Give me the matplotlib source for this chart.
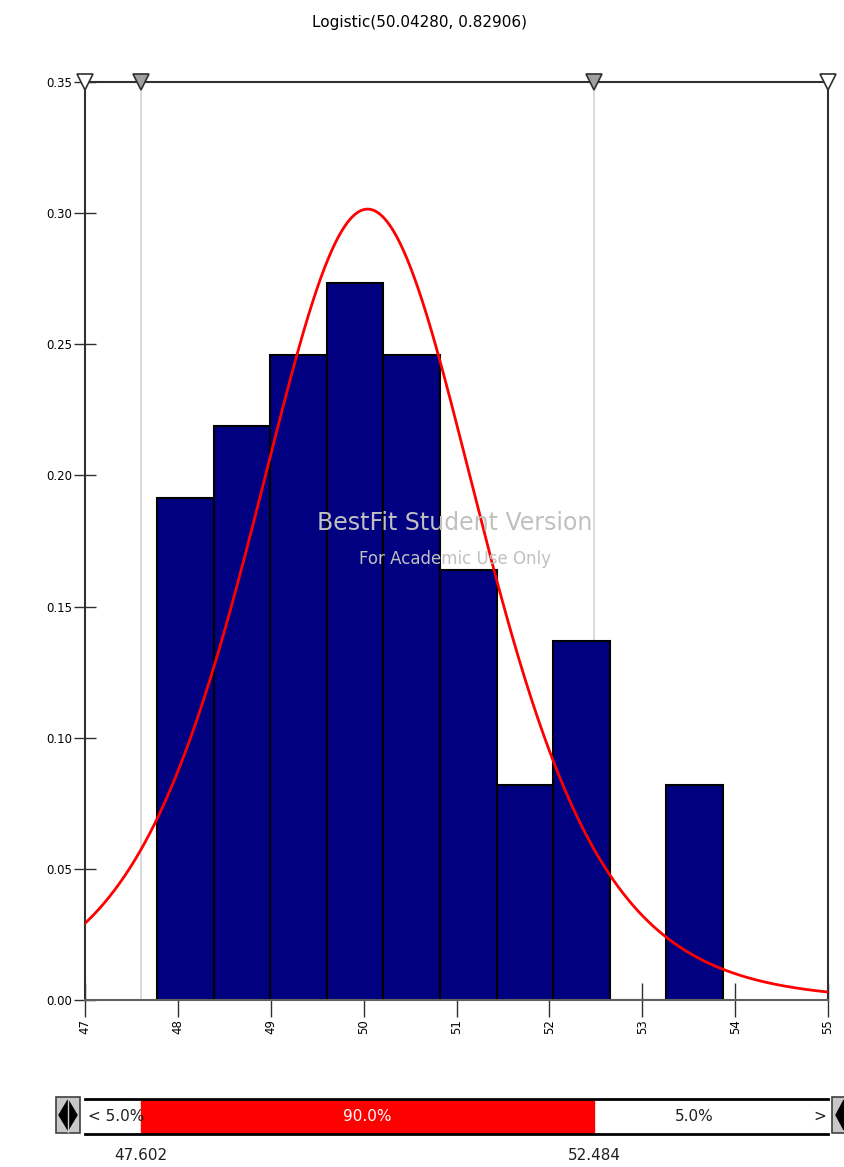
import numpy as np
import matplotlib
matplotlib.use("Agg")
import matplotlib.pyplot as plt
from matplotlib.patches import Rectangle, Polygon

# fitted distribution
alpha = 50.04280
beta = 0.82906
# histogram (60 samples)
n_samples = 60
bin_start = 47.775
bin_width = 0.6095
counts = [7, 8, 9, 10, 9, 6, 3, 5, 0, 3]
# delimiters
left_q = 47.602
right_q = 52.484
pct_labels = ['< 5.0%', '90.0%', '5.0%']
x_ticks = [47, 48, 49, 50, 51, 52, 53, 54, 55]
y_ticks = [0.00, 0.05, 0.10, 0.15, 0.20, 0.25, 0.30, 0.35]

plt.rcParams['font.family'] = ['DejaVu Sans']

fig = plt.figure(figsize=(8.45, 11.67), dpi=100)
ax = fig.add_axes([85/845, 167/1167, 743/845, 918/1167])

# histogram as density
edges = bin_start + bin_width * np.arange(len(counts) + 1)
dens = np.array(counts) / (n_samples * bin_width)
ax.bar(edges[:-1], dens, width=bin_width, align='edge', color='#000080',
       edgecolor='black', linewidth=1.5, zorder=2)

# logistic pdf from fitted parameters
xs = np.linspace(47, 55, 600)
z = np.exp(-(xs - alpha) / beta)
pdf = z / (beta * (1 + z) ** 2)
ax.plot(xs, pdf, color='red', lw=2, zorder=3)

for q in (left_q, right_q):
    ax.axvline(q, color='#d4d4d4', lw=1.2, zorder=1)

ax.set_xlim(47, 55)
ax.set_ylim(0, 0.35)
ax.set_xticks(x_ticks)
ax.set_xticklabels([str(t) for t in x_ticks], rotation=90, fontsize=8.5)
ax.set_yticks(y_ticks)
ax.set_yticklabels(['%.2f' % t for t in y_ticks], fontsize=8.5)
ax.tick_params(axis='x', direction='inout', length=24, width=1, color='#303030', pad=2)
ax.tick_params(axis='y', direction='inout', length=16, width=1, color='#303030', pad=1)
for s in ['left', 'right', 'top']:
    ax.spines[s].set_color('#303030')
    ax.spines[s].set_linewidth(1.5)
ax.spines['bottom'].set_color('#606060')
ax.spines['bottom'].set_linewidth(1.5)

# delimiter markers on top
ax.plot([47, 55], [0.35, 0.35], ls='none', marker='v', ms=11, mfc='white',
        mec='#303030', mew=1.2, clip_on=False, zorder=5)
ax.plot([left_q, right_q], [0.35, 0.35], ls='none', marker='v', ms=11, mfc='#a0a0a0',
        mec='#303030', mew=1.2, clip_on=False, zorder=5)

fig.text(420/845, 1 - 22/1167, 'Logistic(%.5f, %.5f)' % (alpha, beta),
         ha='center', va='center', fontsize=11)

# watermark
ax.text(0.498, (1000 - 523) / 918, 'BestFit Student Version',
        transform=ax.transAxes, ha='center', va='center', fontsize=17,
        color='#c0c0c0', zorder=4)
ax.text(0.498, (1000 - 559) / 918, 'For Academic Use Only',
        transform=ax.transAxes, ha='center', va='center', fontsize=12,
        color='#c0c0c0', zorder=4)

# slider bar
sl = fig.add_axes([85/845, 33/1167, 743/845, 35/1167])
sl.set_xlim(47, 55)
sl.set_ylim(0, 1)
sl.axvspan(left_q, right_q, color='red')
sl.set_xticks([])
sl.set_yticks([])
sl.spines['left'].set_visible(False)
sl.spines['right'].set_visible(False)
sl.spines['top'].set_linewidth(2)
sl.spines['bottom'].set_linewidth(2)
sl.text(47.03, 0.5, pct_labels[0], ha='left', va='center', fontsize=11, color='#202020')
sl.text((left_q + right_q) / 2, 0.5, pct_labels[1], ha='center', va='center',
        fontsize=11, color='white')
sl.text((right_q + 55) / 2 - 0.18, 0.5, pct_labels[2], ha='center', va='center',
        fontsize=11, color='#202020')
sl.text(54.98, 0.5, '>', ha='right', va='center', fontsize=11, color='#202020')
sl.text(left_q, -0.6, '%.3f' % left_q, ha='center', va='center', fontsize=11,
        color='#202020', clip_on=False)
sl.text(right_q, -0.6, '%.3f' % right_q, ha='center', va='center', fontsize=11,
        color='#202020', clip_on=False)

# slider buttons
def px(x, y):
    return (x / 845, 1 - y / 1167)

fig.add_artist(Rectangle(px(56, 1133), 24/845, 36/1167, transform=fig.transFigure,
                         facecolor='#c8c8c8', edgecolor='#404040', lw=1.2))
fig.add_artist(Polygon([px(68, 1100), px(59, 1115), px(68, 1130), px(77, 1115)],
                       closed=True, transform=fig.transFigure, color='black'))
fig.add_artist(plt.Line2D([68/845, 68/845], [1 - 1098/1167, 1 - 1132/1167],
                          transform=fig.transFigure, color='#c8c8c8', lw=1))
fig.add_artist(Rectangle(px(832, 1133), 24/845, 36/1167, transform=fig.transFigure,
                         facecolor='#c8c8c8', edgecolor='#404040', lw=1.2))
fig.add_artist(Polygon([px(844, 1100), px(836, 1115), px(844, 1130)],
                       closed=True, transform=fig.transFigure, color='black'))

fig.savefig('out.png', dpi=100)
